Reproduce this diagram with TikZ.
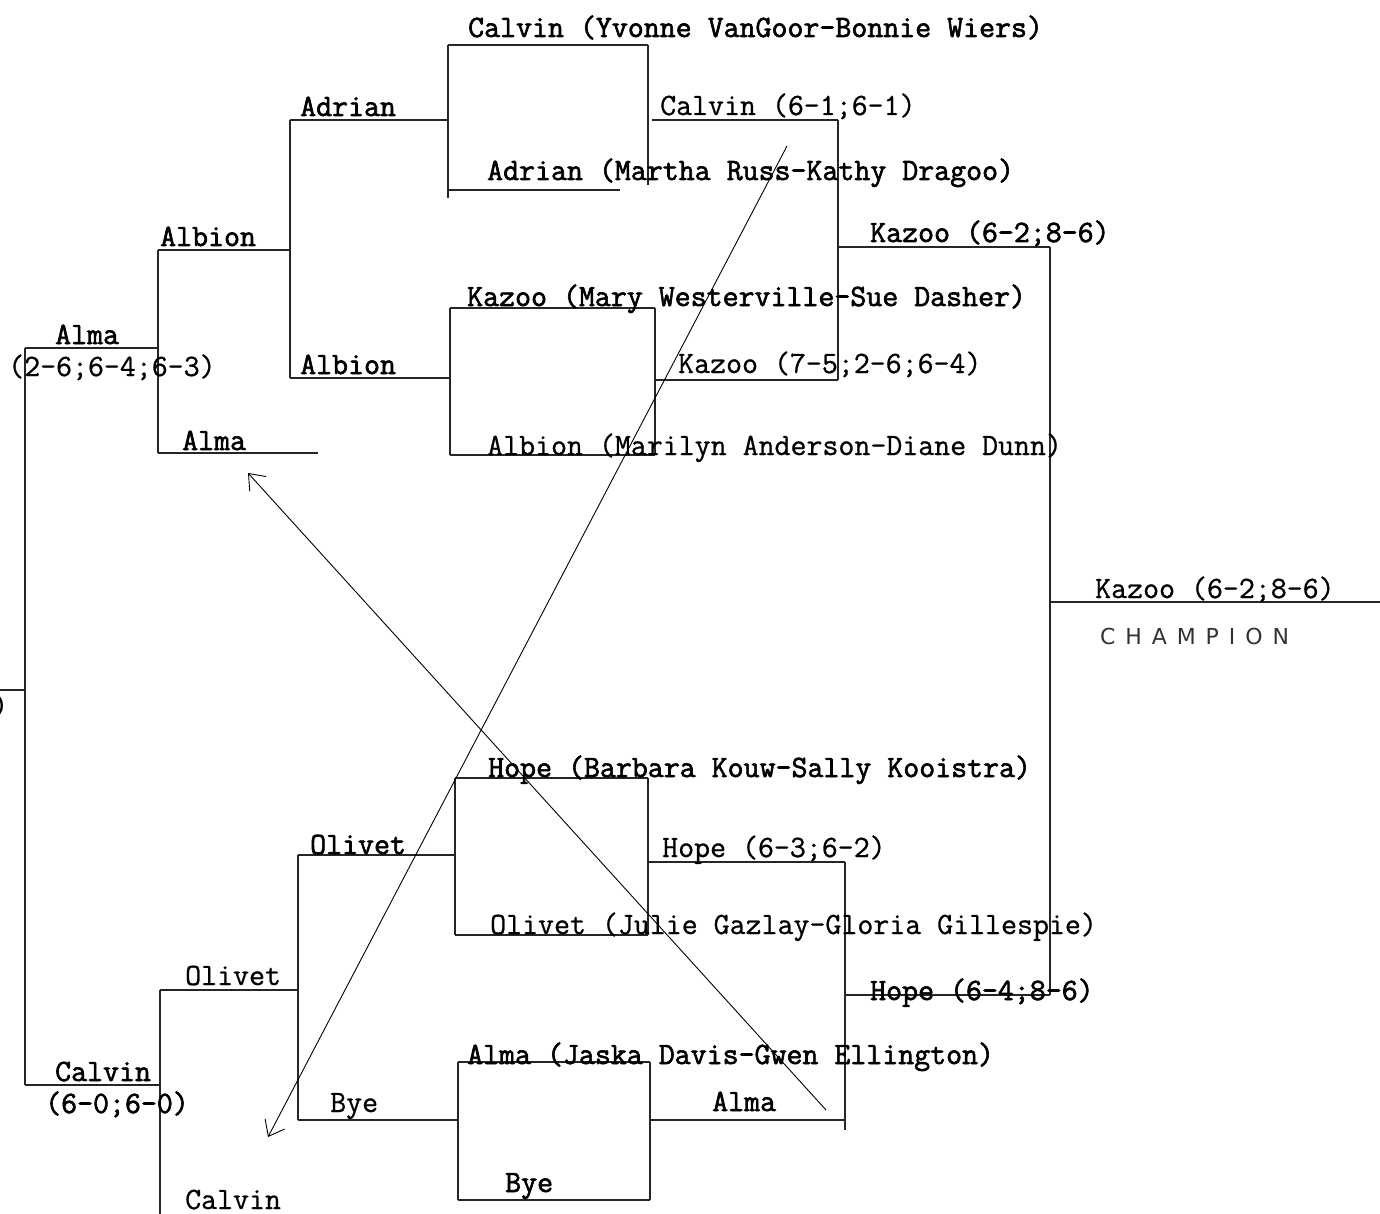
\documentclass[tikz,border=0pt]{standalone}
\usepackage{fontspec}
\usetikzlibrary{arrows.meta}
\newfontfamily\hand[LetterSpace=45]{DejaVu Sans}
\newfontfamily\twr[FakeBold=0.8]{Latin Modern Mono}
\newfontfamily\twb[FakeBold=2]{Latin Modern Mono}
\begin{document}
\begin{tikzpicture}[x=1pt,y=-1pt,
  br/.style={line width=1.3pt,black!85},
  pen/.style={line width=0.9pt,black},
  tip/.style={-{Straight Barb[length=14pt,width=22pt,line width=0.9pt]}},
  lbl/.style={anchor=base west,inner sep=0pt,font=\twr\fontsize{31}{35}\selectfont},
  blbl/.style={lbl,font=\twb\fontsize{31}{35}\selectfont}]
\useasboundingbox (0,0) rectangle (1380,1214);
% ---------- bracket lines ----------
% final (left) bracket
\draw[br] (0,690) -- (25,690);
\draw[br] (25,348) -- (25,1085);
\draw[br] (25,348) -- (158,348);
\draw[br] (25,1085) -- (160,1085);
% upper left
\draw[br] (158,250) -- (158,453);
\draw[br] (158,250) -- (290,250);
\draw[br] (158,453) -- (318,453);
\draw[br] (290,120) -- (290,378);
\draw[br] (290,120) -- (448,120);
\draw[br] (290,378) -- (450,378);
% Calvin / Adrian box
\draw[br] (448,45) -- (448,198);
\draw[br] (448,45) -- (648,45);
\draw[br] (448,190) -- (620,190);
\draw[br] (648,45) -- (648,185);
\draw[br] (652,120) -- (838,120);
% Kazoo / Albion box
\draw[br] (450,308) -- (450,455);
\draw[br] (450,308) -- (655,308);
\draw[br] (450,455) -- (655,455);
\draw[br] (655,308) -- (655,455);
\draw[br] (655,380) -- (838,380);
\draw[br] (838,120) -- (838,380);
\draw[br] (838,247) -- (1050,247);
% champion
\draw[br] (1050,247) -- (1050,995);
\draw[br] (1050,602) -- (1380,602);
% lower right
\draw[br] (845,995) -- (1050,995);
\draw[br] (845,862) -- (845,1130);
\draw[br] (648,862) -- (845,862);
% Hope / Olivet box
\draw[br] (455,778) -- (455,935);
\draw[br] (455,778) -- (648,778);
\draw[br] (455,935) -- (648,935);
\draw[br] (648,778) -- (648,935);
\draw[br] (298,855) -- (455,855);
\draw[br] (298,855) -- (298,1120);
\draw[br] (298,1120) -- (458,1120);
% Alma / Bye box
\draw[br] (458,1062) -- (458,1200);
\draw[br] (458,1062) -- (650,1062);
\draw[br] (458,1200) -- (650,1200);
\draw[br] (650,1062) -- (650,1200);
\draw[br] (650,1120) -- (845,1120);
% lower left
\draw[br] (160,990) -- (298,990);
\draw[br] (160,990) -- (160,1214);
% ---------- labels ----------
\node[lbl] (cut) at (-8,715) {)};
\node[blbl] (almaA) at (55,344) {Alma};
\node[lbl] (almaS) at (8,376) {(2-6;6-4;6-3)};
\node[blbl] (albA) at (160,246) {Albion};
\node[blbl] (almaB) at (182,450) {Alma};
\node[blbl] (adrA) at (300,116) {Adrian};
\node[blbl] (albB) at (300,374) {Albion};
\node[blbl] (calT) at (468,37) {Calvin (Yvonne VanGoor-Bonnie Wiers)};
\node[lbl] (calW) at (660,115) {Calvin (6-1;6-1)};
\node[blbl] (adrT) at (487,180) {Adrian (Martha Russ-Kathy Dragoo)};
\node[blbl] (kazW) at (870,242) {Kazoo (6-2;8-6)};
\node[blbl] (kazT) at (467,306) {Kazoo (Mary Westerville-Sue Dasher)};
\node[lbl] (kazS) at (678,373) {Kazoo (7-5;2-6;6-4)};
\node[lbl] (albT) at (487,455) {Albion (Marilyn Anderson-Diane Dunn)};
\node[lbl] (champ) at (1095,598) {Kazoo (6-2;8-6)};
\node[anchor=base west,inner sep=0pt,font=\hand\fontsize{22}{26}\selectfont,text=black!80] (champT) at (1100,644) {CHAMPION};
\node[blbl] (hopeT) at (488,777) {Hope (Barbara Kouw-Sally Kooistra)};
\node[blbl] (oliA) at (310,854) {Olivet};
\node[lbl] (hopeS) at (662,857) {Hope (6-3;6-2)};
\node[lbl] (oliT) at (490,934) {Olivet (Julie Gazlay-Gloria Gillespie)};
\node[lbl] (oliB) at (185,985) {Olivet};
\node[blbl] (hopeW) at (870,1000) {Hope (6-4;8-6)};
\node[blbl] (almaT) at (467,1064) {Alma (Jaska Davis-Gwen Ellington)};
\node[blbl] (calA) at (55,1081) {Calvin};
\node[blbl] (calS) at (45,1113) {(6-0;6-0)};
\node[lbl] (byeA) at (330,1112) {Bye};
\node[blbl] (almaW) at (712,1111) {Alma};
\node[blbl] (byeT) at (505,1192) {Bye};
\node[lbl] (calB) at (185,1209) {Calvin};
% ---------- hand-drawn arrows ----------
\coordinate (p1s) at (787,146);
\coordinate (p1e) at (268,1137);
\coordinate (p2s) at (826,1110);
\coordinate (p2e) at (248,473);
\draw[pen,tip] (p1s) -- (p1e);
\draw[pen,tip] (p2s) -- (p2e);
\end{tikzpicture}
\end{document}
